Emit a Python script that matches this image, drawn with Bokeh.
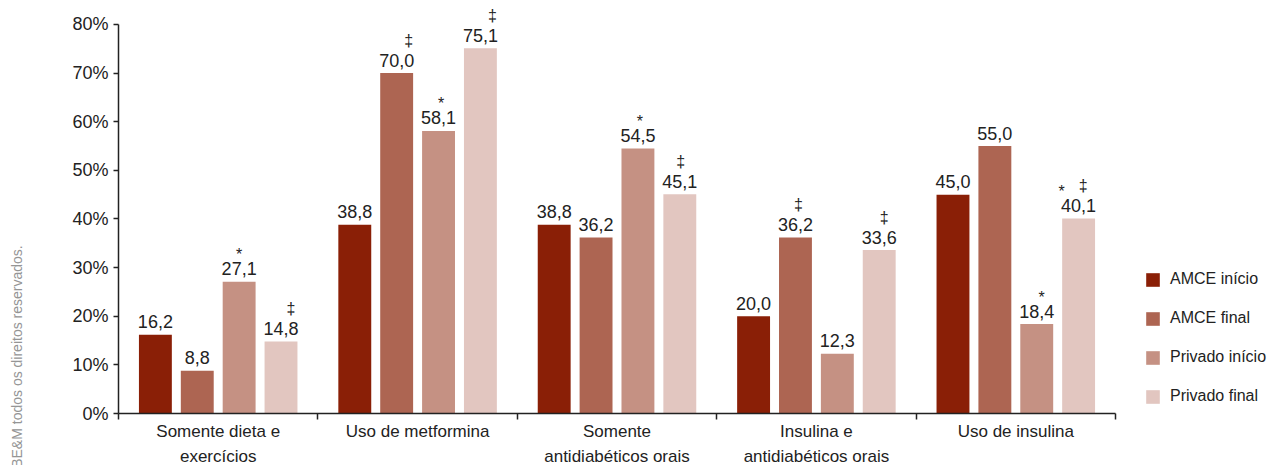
from bokeh.plotting import figure
from bokeh.models import (ColumnDataSource, Range1d, FixedTicker, Legend, LegendItem,
                          Title, NumeralTickFormatter)
from bokeh.core.properties import value
from bokeh.embed import file_html
from bokeh.resources import INLINE

# ---- data ----
categories = ["Somente dieta e\nexercícios", "Uso de metformina", "Somente\nantidiabéticos orais",
              "Insulina e\nantidiabéticos orais", "Uso de insulina"]
series_names = ["AMCE início", "AMCE final", "Privado início", "Privado final"]
amce_inicio = [16.2, 38.8, 38.8, 20.0, 45.0]
amce_final = [8.8, 70.0, 36.2, 36.2, 55.0]
privado_inicio = [27.1, 58.1, 54.5, 12.3, 18.4]
privado_final = [14.8, 75.1, 45.1, 33.6, 40.1]
# significance marks for each bar
daggers_amce_inicio = ["", "", "", "", ""]
daggers_amce_final = ["", "‡", "", "‡", ""]
daggers_privado_inicio = ["", "", "", "", ""]
daggers_privado_final = ["‡", "‡", "‡", "‡", "‡"]
stars_amce_inicio = ["", "", "", "", ""]
stars_amce_final = ["", "", "", "", ""]
stars_privado_inicio = ["*", "*", "*", "", "*"]
stars_privado_final = ["", "", "", "", "*"]
y_ticks = [0, 10, 20, 30, 40, 50, 60, 70, 80]

# ---- style ----
colors = ["#8a1f06", "#ad6552", "#c59183", "#e2c6c0"]
FONT = "Liberation Sans"
TXT = "#222222"
offsets = [-0.315, -0.105, 0.105, 0.315]
bar_w = 0.165

series = [amce_inicio, amce_final, privado_inicio, privado_final]
daggers = [daggers_amce_inicio, daggers_amce_final, daggers_privado_inicio, daggers_privado_final]
stars = [stars_amce_inicio, stars_amce_final, stars_privado_inicio, stars_privado_final]
# horizontal nudges (px) of the marks, as placed in the original
dagger_dx = [[0] * 5, [0, 12, 0, 3, 0], [0] * 5, [10, 12, 1, 5, 4.5]]
star_dx = [[0] * 5, [0] * 5, [0, 2.5, 2, 0, 5], [0, 0, 0, 0, -17]]

p = figure(frame_width=997, frame_height=413, output_backend="svg", toolbar_location=None,
           x_range=Range1d(0, 5), y_range=Range1d(0, 84.93),
           min_border_left=118, min_border_right=156, min_border_top=0, min_border_bottom=52)
p.outline_line_color = None
p.grid.visible = False
p.background_fill_color = "white"
p.border_fill_color = "white"

items = []
for k in range(4):
    xs = [i + 0.5 + offsets[k] for i in range(5)]
    src = ColumnDataSource(dict(
        x=xs, top=series[k],
        lab=[f"{v:.1f}".replace(".", ",") for v in series[k]],
        dg=daggers[k], st=stars[k], ddx=dagger_dx[k], sdx=star_dx[k]))
    r = p.vbar(x="x", top="top", width=bar_w, source=src, fill_color=colors[k], line_color=None)
    items.append(LegendItem(label=series_names[k], renderers=[r]))
    p.text(x="x", y="top", text="lab", source=src, text_align="center", text_baseline="middle",
           y_offset=-13, text_font=value(FONT), text_font_size="18px", text_color=TXT)
    p.text(x="x", y="top", text="dg", source=src, text_align="center", text_baseline="middle",
           x_offset="ddx", y_offset=-33, text_font=value(FONT), text_font_size="16px", text_color=TXT)
    p.text(x="x", y="top", text="st", source=src, text_align="center", text_baseline="middle",
           x_offset="sdx", y_offset=-27, text_font=value(FONT), text_font_size="16px", text_color=TXT)

# axes
p.yaxis.ticker = FixedTicker(ticks=y_ticks)
p.yaxis.bounds = (0, 80)
p.yaxis.formatter = NumeralTickFormatter(format="0")
p.yaxis.major_label_overrides = {t: f"{t}%" for t in y_ticks}
p.yaxis.minor_tick_line_color = None
p.yaxis.major_tick_in = 0
p.yaxis.major_tick_out = 5
p.yaxis.major_label_standoff = 5
p.yaxis.axis_line_width = 1.5
p.yaxis.axis_line_color = "#222222"
p.yaxis.major_tick_line_color = "#222222"
p.yaxis.major_tick_line_width = 1.5
p.yaxis.major_label_text_font = FONT
p.yaxis.major_label_text_font_size = "18px"
p.yaxis.major_label_text_color = TXT

centers = [i + 0.5 for i in range(5)]
p.xaxis.ticker = FixedTicker(ticks=centers, minor_ticks=[0, 1, 2, 3, 4, 5])
p.xaxis.major_label_overrides = {c: categories[i] for i, c in enumerate(centers)}
p.xaxis.major_tick_in = 0
p.xaxis.major_tick_out = 0
p.xaxis.minor_tick_in = 0
p.xaxis.minor_tick_out = 6
p.xaxis.minor_tick_line_color = "#222222"
p.xaxis.minor_tick_line_width = 1.5
p.xaxis.axis_line_width = 1.5
p.xaxis.axis_line_color = "#222222"
p.xaxis.major_label_standoff = 2
p.xaxis.major_label_text_font = FONT
p.xaxis.major_label_text_font_size = "17px"
p.xaxis.major_label_text_color = TXT
p.xaxis.major_label_text_line_height = 1.35

legend = Legend(items=items, location=(29, 8), orientation="vertical",
                glyph_width=17, glyph_height=17, label_height=17, spacing=21,
                label_standoff=9, padding=0, margin=0, border_line_color=None,
                background_fill_alpha=0, label_text_font=FONT, label_text_font_size="16px",
                label_text_color=TXT)
p.add_layout(legend, "right")

# spacer between the y axis and the copyright note
spacer = Title(text=" ", standoff=23, text_font=FONT, text_font_size="10px")
p.add_layout(spacer, "left")
cp = Title(text="Copyright© ABE&M todos os direitos reservados.", align="left", offset=-137,
           vertical_align="top", standoff=14, text_font=FONT, text_font_size="14px",
           text_font_style="normal", text_color="#959595")
p.add_layout(cp, "left")

open("out.html", "w").write(file_html(p, INLINE))
